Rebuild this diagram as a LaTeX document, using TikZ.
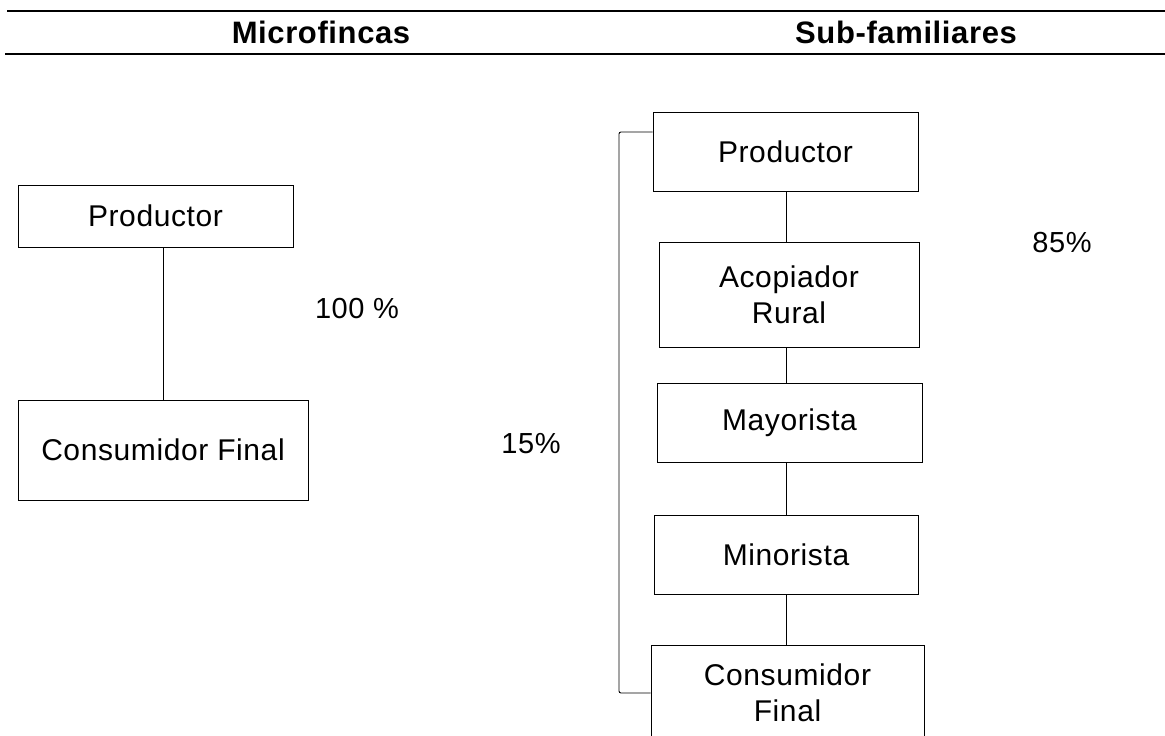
\documentclass[tikz,border=0pt]{standalone}
\usepackage{fontspec}
\setmainfont{Liberation Sans}[LetterSpace=2]
\begin{document}
\begin{tikzpicture}[x=1pt,y=-1pt,
  box/.style={draw, line width=0.9pt, inner sep=0pt, align=center, font=\fontsize{30}{36}\selectfont},
  conn/.style={line width=0.9pt},
  hdr/.style={font=\fontsize{31}{36}\selectfont\bfseries, inner sep=0pt},
  pct/.style={font=\fontsize{29}{36}\selectfont, inner sep=0pt},
  rulerline/.style={line width=1.8pt}]
\clip (0,0) rectangle (1165,736);
\fill[white] (0,0) rectangle (1165,736);
% header rules
\coordinate (t1) at (7,11);
\coordinate (t2) at (1165,11);
\coordinate (b1) at (5,54);
\coordinate (b2) at (1165,54);
\draw[rulerline] (t1) -- (t2);
\draw[rulerline] (b1) -- (b2);
\node[hdr] (h1) at (321,32) {Microfincas};
\node[hdr] (h2) at (906,32) {Sub-familiares};
% left column
\node[box, minimum width=275pt, minimum height=62pt] (lp) at (155.5,216) {Productor};
\node[box, minimum width=290pt, minimum height=100pt] (lc) at (163,450) {Consumidor Final};
\draw[conn] (lc.north |- lp.south) -- (lc.north);
\node[pct] (p100) at (357,309) {100 \%};
% right column
\node[box, minimum width=265pt, minimum height=79pt] (rp) at (785.5,151.5) {Productor};
\node[box, minimum width=260pt, minimum height=105pt] (ac) at (789,294.5) {Acopiador\\Rural};
\node[box, minimum width=265pt, minimum height=79pt] (ma) at (789.5,422.5) {Mayorista};
\node[box, minimum width=264pt, minimum height=79pt] (mi) at (786,554.5) {Minorista};
\node[box, minimum width=273pt, minimum height=95pt] (rc) at (787.5,692.5) {Consumidor\\Final};
\coordinate (axis) at (786,0);
\draw[conn] (rp.south -| axis) -- (ac.north -| axis);
\draw[conn] (ac.south -| axis) -- (ma.north -| axis);
\draw[conn] (ma.south -| axis) -- (mi.north -| axis);
\draw[conn] (mi.south -| axis) -- (rc.north -| axis);
% bracket
\coordinate (bt) at (619,132);
\coordinate (bb) at (619,693);
\draw[conn, rounded corners=2pt] (rp.west |- bt) -- (bt) -- (bb) -- (rc.west |- bb);
\node[pct] (p15) at (531,444) {15\%};
\node[pct] (p85) at (1062,243) {85\%};
\end{tikzpicture}
\end{document}
